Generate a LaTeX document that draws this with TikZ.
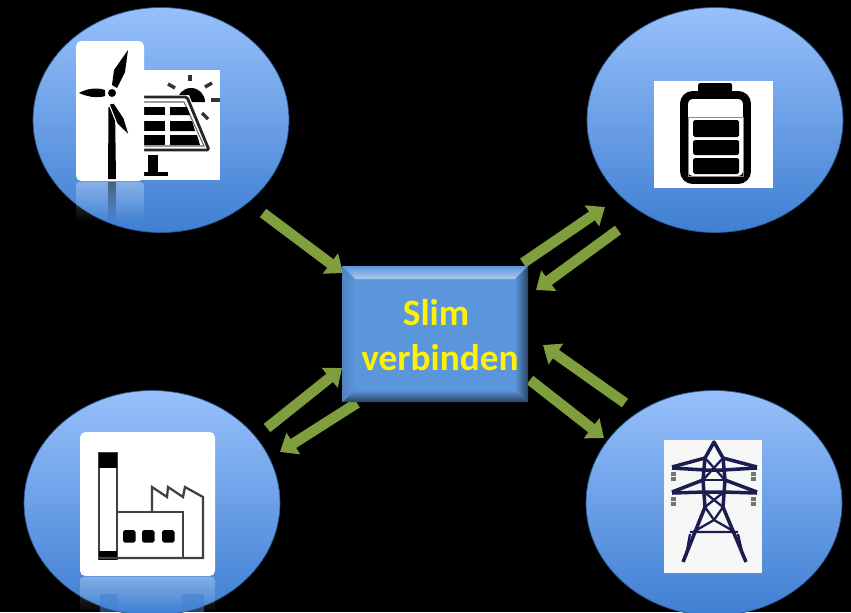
\documentclass[tikz,border=0pt]{standalone}
\usepackage{fontspec}
\setmainfont{Carlito}
\usetikzlibrary{arrows.meta,shapes.geometric,fadings}

\definecolor{arrowgreen}{HTML}{7F9F3F}
\definecolor{discTop}{HTML}{97C0FB}
\definecolor{discBottom}{HTML}{3F7FD2}
\definecolor{boxBlue}{HTML}{5B95DC}
\definecolor{pylonBlue}{HTML}{1C1C50}

\tikzset{
  disc/.style={ellipse, minimum width=5.12cm, minimum height=4.5cm, inner sep=0pt,
    top color=discTop, bottom color=discBottom, draw=discBottom!70!black, line width=0.4pt},
  flow/.style={draw=arrowgreen, line width=6pt, -{Triangle[width=14pt,length=9pt]}},
  card/.style={fill=white, rounded corners=3pt},
  glare/.style={fill=white, opacity=0.3, path fading=south, rounded corners=2pt},
  pylon/.style={draw=pylonBlue, line width=2pt, line join=round},
  brace/.style={draw=pylonBlue, line width=1.3pt, line join=round},
  shed/.style={draw=black!75, line width=1.3pt}
}

\begin{document}
\begin{tikzpicture}[x=0.02cm, y=-0.02cm]

\clip (0,0) rectangle (851,612);
\fill[black] (0,0) rectangle (851,612);

\node[disc] (source) at (161,120) {};
\node[disc] (battery) at (715,120) {};
\node[disc] (factory) at (152,503) {};
\node[disc] (grid) at (714,503) {};

\fill[white] (140,70) rectangle (220,180);
\fill[black] (177,102) arc (180:360:14) -- cycle;
\foreach \a/\b/\c/\d in {190/75/190/81, 168/84/175/88, 212/83/205/87, 220/100/211/100, 202/113/208/119}
  \draw[black!80, line width=2pt] (\a,\b) -- (\c,\d);
\fill[white] (162,95) -- (189,95) -- (212,152) -- (140,152) -- cycle;
\draw[black!85, line width=1.6pt, rounded corners=1pt] (140,97) -- (187,97) -- (209,150) -- (140,150);
\draw[black!60, line width=0.6pt] (140,102) -- (184,102) -- (204,146) -- (140,146);
\fill[black] (140,107) rectangle (165,115);
\fill[black] (170,107) -- (187,107) -- (190,115) -- (170,115) -- cycle;
\fill[black] (140,121) rectangle (165,131);
\fill[black] (170,121) -- (192,121) -- (195,131) -- (170,131) -- cycle;
\fill[black] (140,135) rectangle (165,145);
\fill[black] (170,135) -- (197,135) -- (200,145) -- (170,145) -- cycle;
\fill[black] (148,155) rectangle (158,172);
\fill[black] (144,172) rectangle (168,176);

\fill[card] (76,41) rectangle (144,181);
\fill[black] (108,179) -- (108.5,107) -- (115,107) -- (116,179) -- cycle;
\fill[black] (112,85) -- (114,70) -- (128,50) -- (125,72) -- (117,88) -- cycle;
\fill[black] (105,90) .. controls (96,87) and (86,89) .. (79,93) .. controls (86,96) and (96,99) .. (105,96) -- cycle;
\filldraw[fill=black, draw=white, line width=0.6pt] (109,104) -- (114,103) -- (124,118) -- (129.5,136) -- (117,124) -- cycle;
\fill[white] (112,93) circle (5.5);
\fill[black] (112,93) circle (4);
\fill[glare] (76,182) rectangle (144,222);
\fill[black, opacity=0.45, path fading=south] (108,182) rectangle (116,222);

\fill[white] (654,81) rectangle (773,188);
\draw[black, line width=4.5pt, rounded corners=5pt] (684,95) rectangle (747,180);
\fill[black, rounded corners=1pt] (698,83) rectangle (732,94);
\draw[black!45, line width=0.5pt] (688,117) rectangle (743,176);
\fill[black, rounded corners=1pt] (693,120) rectangle (739,137);
\fill[black, rounded corners=1pt] (693,140) rectangle (739,155);
\fill[black, rounded corners=1pt] (693,158) rectangle (739,174);

\fill[card] (80,432) rectangle (215,576);
\draw[shed] (99,453) rectangle (117,559);
\fill[black] (99,453) rectangle (117,468);
\fill[black] (99,551) rectangle (117,560);
\draw[shed] (117,512) -- (183,512) -- (183,558);
\draw[shed] (99,558) -- (203,558) -- (203,497) -- (185,487) -- (183,497) -- (168,487) -- (167,497) -- (152,487) -- (152,512);
\foreach \x in {123,142,162}
  \fill[black, rounded corners=1pt] (\x,530) rectangle ++(12.5,12.5);
\fill[glare] (80,577) rectangle (215,612);
\fill[discBottom, opacity=0.5] (100,594) rectangle (118,612);
\fill[discBottom, opacity=0.5] (182,594) rectangle (204,612);

\fill[black!3] (664,440) rectangle (762,573);
\draw[pylon] (683,562) -- (705,507) -- (703,480) -- (705,458) -- (714,442) -- (723,458) -- (725,480) -- (723,507) -- (746,562);
\draw[pylon] (672,467) -- (705,458) (723,458) -- (757,467);
\draw[pylon] (672,468) -- (705,470) -- (723,470) -- (757,468);
\draw[pylon] (672,492) -- (703,480) (725,480) -- (757,492);
\draw[pylon] (672,493) -- (705,492) -- (723,492) -- (757,493);
\draw[brace] (705,458) -- (725,480) (723,458) -- (703,480);
\draw[brace] (705,480) -- (723,480);
\draw[brace] (704,492) -- (723,507) (724,492) -- (705,507);
\draw[brace] (705,507) -- (714,520) -- (723,507);
\draw[brace] (693,532) -- (714,520) -- (735,532) (690,532) -- (738,532);
\draw[brace] (690,534) -- (686,556) (738,534) -- (743,556);
\foreach \x in {673,753}
  \foreach \y in {472,477,497,502}
    \fill[black!55] (\x-2.5,\y) rectangle ++(5,3.5);

\coordinate (source out) at (263,213);
\coordinate (core west top) at (343,273);
\coordinate (core ne) at (523,263);
\coordinate (battery in) at (605,207);
\coordinate (battery out) at (618,230);
\coordinate (core ne low) at (536,290);
\coordinate (core se) at (530,380);
\coordinate (grid in) at (604,438);
\coordinate (grid out) at (625,403);
\coordinate (core east) at (543,345);
\coordinate (factory out) at (267,428);
\coordinate (core west low) at (342,368);
\coordinate (core sw) at (357,403);
\coordinate (factory in) at (280,452);

\draw[flow] (source out) -- (core west top);
\draw[flow] (core ne) -- (battery in);
\draw[flow] (battery out) -- (core ne low);
\draw[flow] (core se) -- (grid in);
\draw[flow] (grid out) -- (core east);
\draw[flow] (factory out) -- (core west low);
\draw[flow] (core sw) -- (factory in);

\node[minimum width=3.72cm, minimum height=2.72cm, fill=boxBlue, inner sep=0pt] (core) at (435,334) {};
\shade[top color=boxBlue, bottom color=boxBlue!50!white] (342,266) -- (528,266) -- (515,279) -- (355,279) -- cycle;
\shade[top color=boxBlue, bottom color=boxBlue!45!black] (342,402) -- (528,402) -- (515,390) -- (355,390) -- cycle;
\shade[left color=boxBlue!88!black, right color=boxBlue] (342,266) -- (355,279) -- (355,390) -- (342,402) -- cycle;
\shade[left color=boxBlue, right color=boxBlue!45!black] (528,266) -- (515,279) -- (515,390) -- (528,402) -- cycle;
\node[text=yellow, font=\bfseries\fontsize{21.2}{25.5}\selectfont, align=center] (corelabel) at (440,335) {Slim\hspace*{4.5pt}\\verbinden};

\end{tikzpicture}
\end{document}
